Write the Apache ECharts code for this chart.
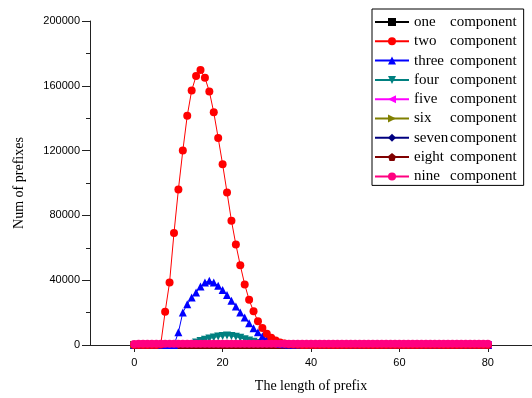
<!DOCTYPE html>
<html><head><meta charset="utf-8">
<script src="https://cdn.jsdelivr.net/npm/echarts@6/dist/echarts.min.js"></script>
<style>html,body{margin:0;padding:0;background:#fff}#c{width:532px;height:398px}</style>
</head><body><div id="c"></div>
<script>
// prefix lengths 0..80
const lengths = [0,1,2,3,4,5,6,7,8,9,10,11,12,13,14,15,16,17,18,19,20,21,22,23,24,25,26,27,28,29,30,31,32,33,34,35,36,37,38,39,40,41,42,43,44,45,46,47,48,49,50,51,52,53,54,55,56,57,58,59,60,61,62,63,64,65,66,67,68,69,70,71,72,73,74,75,76,77,78,79,80];
const seriesNames = ["one component","two component","three component","four component","five component","six component","seven component","eight component","nine component"];
const xTickLabels = [0,20,40,60,80];
const xMinorTicks = [10,30,50,70];

const oneComp   = [0,0,0,0,0,0,0,0,0,0,0,0,0,0,0,0,0,0,0,0,0,0,0,0,0,0,0,0,0,0,0,0,0,0,0,0,0,0,0,0,0,0,0,0,0,0,0,0,0,0,0,0,0,0,0,0,0,0,0,0,0,0,0,0,0,0,0,0,0,0,0,0,0,0,0,0,0,0,0,0,0];
const twoComp   = [0,0,0,0,0,0,300,20500,38600,69100,96000,120000,141500,157100,166000,169800,165000,156500,143600,127800,111600,94200,76700,62000,49200,37400,27900,20800,14600,10500,7000,4500,2800,1600,900,500,250,120,60,30,0,0,0,0,0,0,0,0,0,0,0,0,0,0,0,0,0,0,0,0,0,0,0,0,0,0,0,0,0,0,0,0,0,0,0,0,0,0,0,0,0];
const threeComp = [0,0,0,0,0,0,0,0,0,0,7800,20100,25200,29300,32400,36100,38600,39600,38600,36500,34000,30800,27300,23800,20100,17000,13500,10300,7800,5400,3600,2300,1400,800,500,300,150,80,40,20,0,0,0,0,0,0,0,0,0,0,0,0,0,0,0,0,0,0,0,0,0,0,0,0,0,0,0,0,0,0,0,0,0,0,0,0,0,0,0,0,0];
const fourComp  = [0,0,0,0,0,0,0,0,0,0,0,0,0,300,1500,2500,3300,4000,4700,5200,5600,5800,5600,5100,4400,3600,2800,2000,1300,800,400,200,100,50,0,0,0,0,0,0,0,0,0,0,0,0,0,0,0,0,0,0,0,0,0,0,0,0,0,0,0,0,0,0,0,0,0,0,0,0,0,0,0,0,0,0,0,0,0,0,0];
const fiveComp  = [0,0,0,0,0,0,0,0,0,0,0,0,0,0,0,0,0,0,0,0,0,0,0,0,0,0,0,0,0,0,0,0,0,0,0,0,0,0,0,0,0,0,0,0,0,0,0,0,0,0,0,0,0,0,0,0,0,0,0,0,0,0,0,0,0,0,0,0,0,0,0,0,0,0,0,0,0,0,0,0,0];
const sixComp   = [0,0,0,0,0,0,0,0,0,0,0,0,0,0,0,0,0,0,0,0,0,0,0,0,0,0,0,0,0,0,0,0,0,0,0,0,0,0,0,0,0,0,0,0,0,0,0,0,0,0,0,0,0,0,0,0,0,0,0,0,0,0,0,0,0,0,0,0,0,0,0,0,0,0,0,0,0,0,0,0,0];
const sevenComp = [0,0,0,0,0,0,0,0,0,0,0,0,0,0,0,0,0,0,0,0,0,0,0,0,0,0,0,0,0,0,0,0,0,0,0,0,0,0,0,0,0,0,0,0,0,0,0,0,0,0,0,0,0,0,0,0,0,0,0,0,0,0,0,0,0,0,0,0,0,0,0,0,0,0,0,0,0,0,0,0,0];
const eightComp = [0,0,0,0,0,0,0,0,0,0,0,0,0,0,0,0,0,0,0,0,0,0,0,0,0,0,0,0,0,0,0,0,0,0,0,0,0,0,0,0,0,0,0,0,0,0,0,0,0,0,0,0,0,0,0,0,0,0,0,0,0,0,0,0,0,0,0,0,0,0,0,0,0,0,0,0,0,0,0,0,0];
const nineComp  = [600,700,700,700,700,700,700,700,700,700,700,700,700,700,700,700,700,700,700,700,700,700,700,700,700,700,700,700,700,700,700,700,700,700,700,700,700,700,700,700,700,700,700,700,700,700,700,700,700,700,700,700,700,700,700,700,700,700,700,700,700,700,700,700,700,700,700,700,700,700,700,700,700,700,700,700,700,700,700,700,700];

const allValues = [oneComp,twoComp,threeComp,fourComp,fiveComp,sixComp,sevenComp,eightComp,nineComp];
const colors = ['#000000','#ff0000','#0000ff','#008080','#ff00ff','#808000','#000080','#800000','#ff0080'];
const symbols = ['rect','circle','triangle','triangle','triangle','triangle','diamond',
  'path://M0,-10 L9.51,-3.09 L5.88,8.09 L-5.88,8.09 L-9.51,-3.09 Z','circle'];
const rotates = [0,0,0,180,90,-90,0,0,0];
const zs = [2,4,3,2,2,2,2,2,5];

const chart = echarts.init(document.getElementById('c'), null, {renderer:'canvas'});
const series = seriesNames.map((n,i)=>({
  name:n, type:'line', xAxisIndex:0, yAxisIndex:0,
  data: lengths.map((x,j)=>[x, allValues[i][j]]),
  symbol: symbols[i], symbolRotate: rotates[i], symbolSize: 8,
  showAllSymbol:true, animation:false, z: zs[i],
  lineStyle:{color:colors[i], width:1},
  itemStyle:{color:colors[i]},
  clip:false
}));

chart.setOption({
  animation:false,
  color: colors,
  grid:{left:90, top:21, bottom:52, right:-8, containLabel:false},
  legend:{
    orient:'vertical', left:372, top:9,
    padding:[5,7,1,2], itemGap:3.3, itemWidth:34, itemHeight:10,
    borderColor:'#000', borderWidth:1, backgroundColor:'#fff',
    data: seriesNames,
    formatter: function(n){ const p=n.split(' '); return '{a|'+p[0]+'}{b|'+p[1]+'}'; },
    textStyle:{fontFamily:'Liberation Serif', fontSize:15, color:'#000', lineHeight:16,
      rich:{a:{width:36, fontFamily:'Liberation Serif', fontSize:15, color:'#000'},
            b:{fontFamily:'Liberation Serif', fontSize:15, color:'#000'}}}
  },
  xAxis:[{
    type:'value', min:-10, max:90, position:'bottom',
    name:'The length of prefix', nameLocation:'middle', nameGap:34,
    nameTextStyle:{fontFamily:'Liberation Serif', fontSize:14, color:'#000'},
    axisLine:{show:true, onZero:false, lineStyle:{color:'#222', width:1}},
    axisTick:{show:true, length:7, customValues:xTickLabels, lineStyle:{color:'#222'}},
    axisLabel:{customValues:xTickLabels, fontFamily:'Liberation Sans', fontSize:11, color:'#000', margin:12},
    splitLine:{show:false}
  },{
    type:'value', min:-10, max:90, position:'bottom',
    axisLine:{show:false, onZero:false},
    axisTick:{show:true, length:4, customValues:xMinorTicks, lineStyle:{color:'#222'}},
    axisLabel:{show:false}, splitLine:{show:false}
  }],
  yAxis:{
    type:'value', min:0, max:200000, interval:40000, position:'left',
    name:'Num of prefixes', nameLocation:'middle', nameGap:64, nameRotate:90,
    nameTextStyle:{fontFamily:'Liberation Serif', fontSize:14, color:'#000'},
    axisLine:{show:true, onZero:false, lineStyle:{color:'#222', width:1}},
    axisTick:{show:true, length:8, lineStyle:{color:'#222'}},
    minorTick:{show:true, splitNumber:2, length:4, lineStyle:{color:'#222'}},
    axisLabel:{fontFamily:'Liberation Sans', fontSize:11, color:'#000', margin:10,
      formatter: function(v){ return String(v); }},
    splitLine:{show:false}
  },
  series: series
});
</script></body></html>
